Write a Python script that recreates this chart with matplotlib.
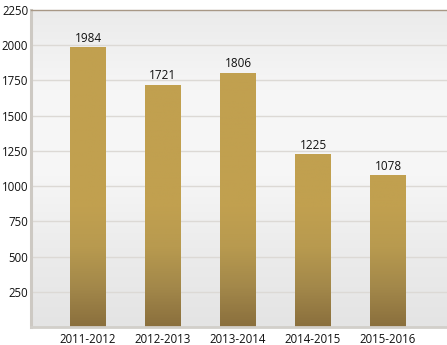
import numpy as np
import matplotlib
matplotlib.use("Agg")
import matplotlib.pyplot as plt
from matplotlib.colors import LinearSegmentedColormap

years = ["2011-2012", "2012-2013", "2013-2014", "2014-2015", "2015-2016"]
values = [1984, 1721, 1806, 1225, 1078]
yticks = [250, 500, 750, 1000, 1250, 1500, 1750, 2000, 2250]

plt.rcParams['font.family'] = ['Open Sans', 'DejaVu Sans']

fig = plt.figure(figsize=(4.47, 3.45), dpi=100)
ax = fig.add_axes([31/447, 18/345, 416/447, 317/345])

xs = np.arange(len(years))
ax.set_xlim(-0.76, 4.787)
ax.set_ylim(0, 2250)

# background gradient
bg = LinearSegmentedColormap.from_list("bg", ["#e4e4e4", "#ececec", "#f7f7f7", "#f6f6f6", "#ebebeb"])
grad = np.linspace(0, 1, 256).reshape(-1, 1)
ax.imshow(grad, cmap=bg, aspect='auto', origin='lower',
          extent=[-0.76, 4.787, 0, 2250], zorder=0)

for t in yticks[:-1]:
	ax.axhline(t, color='#dcd9d5', linewidth=1.0, zorder=1)

# bars, gold on top darkening near the base
barcm = LinearSegmentedColormap.from_list("bar", ["#8a6f3d", "#a3884a", "#b89a4f", "#c1a04f"])
bars = ax.bar(xs, values, width=0.48, color='none', edgecolor='none', zorder=2)
for b, v in zip(bars, values):
	x0 = b.get_x()
	x1 = x0 + b.get_width()
	ys = np.linspace(0, v, 256)
	g = np.clip(ys / 850.0, 0, 1).reshape(-1, 1)
	im = ax.imshow(g, cmap=barcm, vmin=0, vmax=1, aspect='auto', origin='lower',
	               extent=[x0, x1, 0, v], zorder=2)
	im.set_clip_path(b)
	ax.text(b.get_x() + b.get_width()/2, v + 16, str(v), ha='center', va='bottom',
	        fontsize=8.5, color='#111111', zorder=3)

ax.set_xticks(xs)
ax.set_xticklabels(years, fontsize=8.3, color='#111111')
ax.set_yticks(yticks)
ax.set_yticklabels([str(t) for t in yticks], fontsize=8.3, color='#111111')
ax.tick_params(length=0, pad=4)
ax.tick_params(axis='y', pad=2)

ax.spines['right'].set_visible(False)
ax.spines['left'].set_color('#cdc9c3')
ax.spines['left'].set_linewidth(2.2)
ax.spines['bottom'].set_color('#d2cfca')
ax.spines['bottom'].set_linewidth(2.0)
ax.spines['top'].set_color('#a89886')
ax.spines['top'].set_linewidth(1.0)

plt.savefig("out.png", dpi=100)
